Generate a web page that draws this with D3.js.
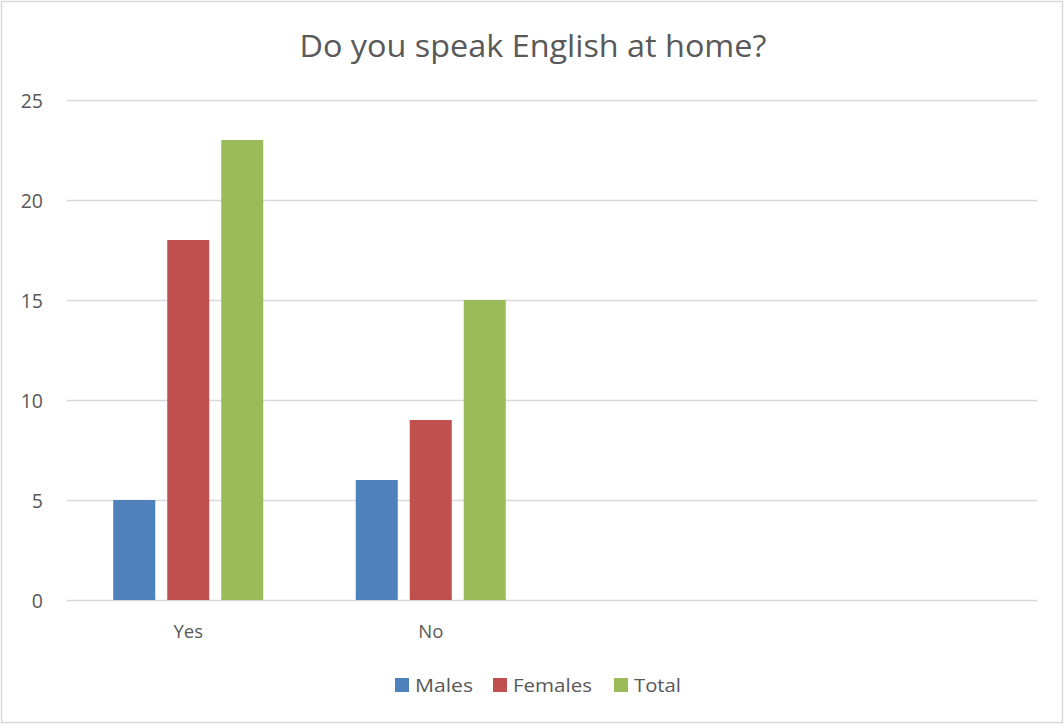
<!DOCTYPE html>
<html>
<head>
<meta charset="utf-8">
<script src="https://cdn.jsdelivr.net/npm/d3@7"></script>
<style>
  html, body { margin: 0; padding: 0; background: #fff; }
  svg { display: block; font-family: "Open Sans", "Liberation Sans", sans-serif; }
</style>
</head>
<body>
<svg id="chart" width="1064" height="724"></svg>
<script>
// Survey answers, one value per category for each series
const categories = ["Yes", "No", "", " "];
const seriesNames = ["Males", "Females", "Total"];
const males = [5, 6, null, null];
const females = [18, 9, null, null];
const total = [23, 15, null, null];
const yTicks = [0, 5, 10, 15, 20, 25];
const colors = ["#4F81BD", "#C0504D", "#9BBB59"];

const seriesValues = [males, females, total];
const svg = d3.select("#chart");
const W = 1064, H = 724;

// chart frame
svg.append("rect")
  .attr("x", 1.5).attr("y", 1.5)
  .attr("width", W - 3).attr("height", H - 3)
  .attr("fill", "#fff").attr("stroke", "#D9D9D9").attr("stroke-width", 1.5);

const plot = { left: 67, right: 1037, top: 100, bottom: 600 };

const x = d3.scaleBand().domain(categories).range([plot.left, plot.right]).paddingInner(0).paddingOuter(0);
const y = d3.scaleLinear().domain([0, 25]).range([plot.bottom, plot.top]);

const barW = 42, barGap = 12;
const groupW = seriesNames.length * barW + (seriesNames.length - 1) * barGap;
const inner = d3.scaleBand().domain(seriesNames).range([0, groupW]).paddingInner(barGap / (barW + barGap)).paddingOuter(0);

// title
svg.append("text")
  .attr("x", 533).attr("y", 57)
  .attr("text-anchor", "middle")
  .attr("fill", "#595959")
  .attr("font-size", 31)
  .attr("textLength", 467).attr("lengthAdjust", "spacingAndGlyphs")
  .text("Do you speak English at home?");

// gridlines
svg.append("g")
  .selectAll("line")
  .data(yTicks)
  .join("line")
  .attr("x1", plot.left).attr("x2", plot.right)
  .attr("y1", d => Math.round(y(d)) + 0.5).attr("y2", d => Math.round(y(d)) + 0.5)
  .attr("stroke", "#D9D9D9").attr("stroke-width", 1.5);

// y axis labels
const yAxis = d3.axisLeft(y).tickValues(yTicks).tickSize(0).tickPadding(0);
const yg = svg.append("g").attr("transform", `translate(43,0)`).call(yAxis);
yg.select(".domain").remove();
yg.selectAll("text")
  .attr("fill", "#595959").attr("font-size", 19.5)
  .attr("font-family", "'Open Sans', sans-serif").attr("dy", "0.36em");

// bars
const groups = svg.append("g")
  .selectAll("g")
  .data(seriesNames.map((name, i) => ({ name, values: seriesValues[i], color: colors[i] })))
  .join("g")
  .attr("fill", d => d.color);

groups.selectAll("rect")
  .data(d => d.values.map((v, j) => ({ name: d.name, cat: categories[j], v })).filter(e => e.v != null))
  .join("rect")
  .attr("x", d => x(d.cat) + (x.bandwidth() - groupW) / 2 + inner(d.name))
  .attr("width", inner.bandwidth())
  .attr("y", d => y(d.v))
  .attr("height", d => y(0) - y(d.v));

// category labels
const xAxis = d3.axisBottom(x).tickSize(0).tickPadding(0);
const xg = svg.append("g").attr("transform", `translate(0,${plot.bottom})`).call(xAxis);
xg.select(".domain").remove();
xg.selectAll("text")
  .attr("fill", "#595959").attr("font-size", 18.5)
  .attr("font-family", "'Open Sans', sans-serif")
  .attr("y", 38).attr("dy", 0);

// legend
const legendItems = [
  { name: "Males", sx: 395, tx: 415, w: 58 },
  { name: "Females", sx: 493, tx: 513, w: 79 },
  { name: "Total", sx: 614, tx: 634, w: 47 }
];
const lg = svg.append("g");
legendItems.forEach((item, i) => {
  lg.append("rect")
    .attr("x", item.sx).attr("y", 678)
    .attr("width", 14).attr("height", 14)
    .attr("fill", colors[i]);
  lg.append("text")
    .attr("x", item.tx).attr("y", 692)
    .attr("fill", "#595959").attr("font-size", 19)
    .attr("textLength", item.w).attr("lengthAdjust", "spacingAndGlyphs")
    .text(item.name);
});
</script>
</body>
</html>
